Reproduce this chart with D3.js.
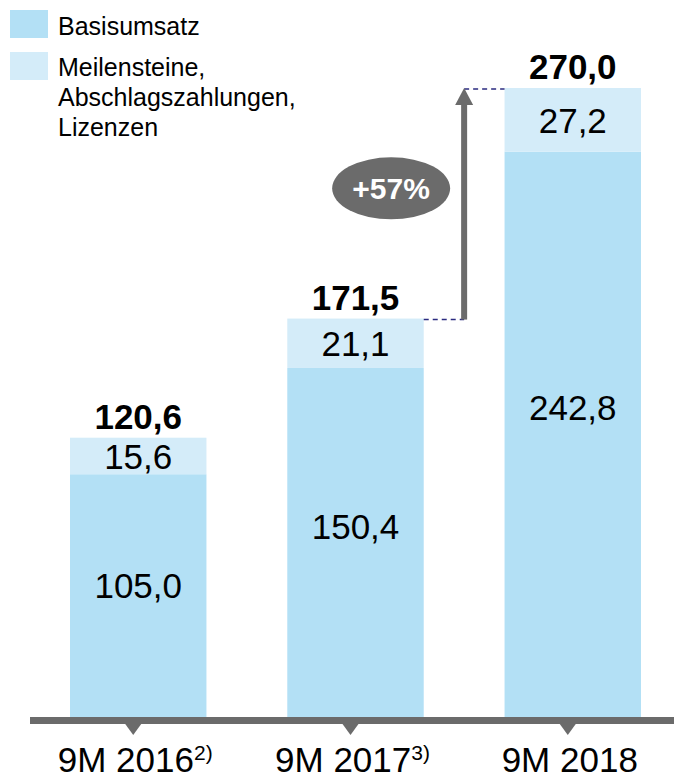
<!DOCTYPE html>
<html>
<head>
<meta charset="utf-8">
<script src="https://cdn.jsdelivr.net/npm/d3@7"></script>
<style>
  body { margin: 0; background: #fff; }
  svg { display: block; font-family: "Liberation Sans", Arial, sans-serif; }
</style>
</head>
<body>
<svg id="chart"></svg>
<script>
const width = 674;
const height = 780;

// chart values
const categories = ["9M 2016", "9M 2017", "9M 2018"];
const footnotes = ["2)", "3)", ""];
const basisumsatz = [105.0, 150.4, 242.8];
const meilensteine = [15.6, 21.1, 27.2];
const totals = [120.6, 171.5, 270.0];
const legendBase = ["Basisumsatz"];
const legendTop = ["Meilensteine,", "Abschlagszahlungen,", "Lizenzen"];
const growthLabel = "+57%";

const colorBase = "#b3e0f5";
const colorTop = "#d4ecf9";
const gray = "#6b6b6b";

const de = d3.formatLocale({ decimal: ",", thousands: ".", grouping: [3], currency: ["", " €"] });
const fmt = de.format(".1f");

const svg = d3.select("#chart")
  .attr("width", width)
  .attr("height", height);

const x = d3.scaleBand()
  .domain(categories)
  .range([70, 641])
  .paddingInner(0.372)
  .paddingOuter(0);

const y = d3.scaleLinear()
  .domain([0, 270])
  .range([720, 88]);

const rows = categories.map((c, i) => ({ cat: c, base: basisumsatz[i], top: meilensteine[i], total: totals[i] }));
const stacked = d3.stack().keys(["base", "top"])(rows);
const colors = { base: colorBase, top: colorTop };

// bars
const layers = svg.append("g").selectAll("g")
  .data(stacked)
  .join("g")
  .attr("fill", d => colors[d.key]);

layers.selectAll("rect")
  .data(d => d)
  .join("rect")
  .attr("x", d => x(d.data.cat))
  .attr("y", d => y(d[1]))
  .attr("width", x.bandwidth())
  .attr("height", d => y(d[0]) - y(d[1]));

// segment labels
const bw = x.bandwidth();
layers.each(function(layer) {
  d3.select(this).selectAll("text")
    .data(layer)
    .join("text")
    .attr("x", d => x(d.data.cat) + bw / 2)
    .attr("y", d => {
      const y0 = y(d[1]), y1 = y(d[0]);
      if (layer.key === "top") return (y0 + y1) / 2 + 13;
      return y0 + (y1 - y0) * 0.45 + 13;
    })
    .attr("text-anchor", "middle")
    .attr("fill", "#000")
    .style("font-size", "35px")
    .text(d => fmt(d[1] - d[0]));
});

// totals
svg.append("g").selectAll("text")
  .data(rows)
  .join("text")
  .attr("x", d => x(d.cat) + bw / 2)
  .attr("y", d => y(d.total) - 9)
  .attr("text-anchor", "middle")
  .style("font-size", "35px")
  .style("font-weight", "bold")
  .text(d => fmt(d.total));

// axis line with little pointers
svg.append("rect")
  .attr("x", 30)
  .attr("y", y(0) - 3)
  .attr("width", width - 30)
  .attr("height", 7)
  .attr("fill", gray);

svg.append("g").selectAll("path")
  .data(categories)
  .join("path")
  .attr("d", c => {
    const cx = x(c) + bw / 2 - 5;
    const t = y(0) + 4;
    return `M${cx - 8},${t} L${cx + 8},${t} L${cx},${t + 11} Z`;
  })
  .attr("fill", gray);

// category labels
const catLabels = svg.append("g").selectAll("text")
  .data(categories)
  .join("text")
  .attr("x", c => x(c) + bw / 2 - 3)
  .attr("y", 772)
  .attr("text-anchor", "middle")
  .style("font-size", "35px");

catLabels.append("tspan").text(c => c);
catLabels.append("tspan")
  .attr("dy", -12)
  .style("font-size", "21px")
  .text((c, i) => footnotes[i]);

// growth arrow between 2017 and 2018
const arrowX = (x(categories[1]) + bw + x(categories[2])) / 2;
const yFrom = y(totals[1]);
const yTo = y(totals[2]);

svg.append("line")
  .attr("x1", x(categories[1]) + bw)
  .attr("x2", arrowX)
  .attr("y1", yFrom + 1)
  .attr("y2", yFrom + 1)
  .attr("stroke", "#2b2b80")
  .attr("stroke-width", 1.5)
  .attr("stroke-dasharray", "5,4");

svg.append("line")
  .attr("x1", arrowX)
  .attr("x2", x(categories[2]))
  .attr("y1", yTo + 1)
  .attr("y2", yTo + 1)
  .attr("stroke", "#2b2b80")
  .attr("stroke-width", 1.5)
  .attr("stroke-dasharray", "5,4");

svg.append("rect")
  .attr("x", arrowX - 3)
  .attr("y", yTo + 14)
  .attr("width", 6)
  .attr("height", yFrom + 1 - (yTo + 14))
  .attr("fill", gray);

svg.append("path")
  .attr("d", `M${arrowX},${yTo} L${arrowX + 9},${yTo + 17} L${arrowX - 9},${yTo + 17} Z`)
  .attr("fill", gray);

const badgeY = (yFrom + yTo) / 2 - 15;
svg.append("ellipse")
  .attr("cx", arrowX - 73)
  .attr("cy", badgeY)
  .attr("rx", 59)
  .attr("ry", 31)
  .attr("fill", gray);

svg.append("text")
  .attr("x", arrowX - 73)
  .attr("y", badgeY + 11)
  .attr("text-anchor", "middle")
  .attr("fill", "#fff")
  .style("font-size", "30px")
  .style("font-weight", "bold")
  .text(growthLabel);

// legend
const legend = svg.append("g");
legend.append("rect")
  .attr("x", 10).attr("y", 10).attr("width", 38).attr("height", 28)
  .attr("fill", colorBase);
legend.append("text")
  .attr("x", 58).attr("y", 35)
  .style("font-size", "25px")
  .text(legendBase[0]);

legend.append("rect")
  .attr("x", 10).attr("y", 52).attr("width", 38).attr("height", 28)
  .attr("fill", colorTop);
legend.append("text")
  .attr("x", 58).attr("y", 76)
  .style("font-size", "25px")
  .selectAll("tspan")
  .data(legendTop)
  .join("tspan")
  .attr("x", 58)
  .attr("dy", (d, i) => i === 0 ? 0 : 30)
  .text(d => d);
</script>
</body>
</html>
